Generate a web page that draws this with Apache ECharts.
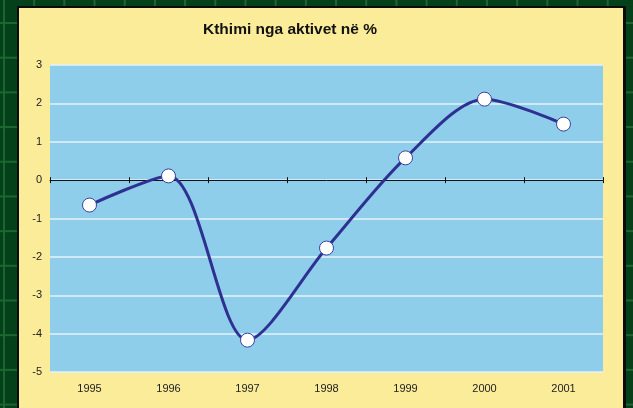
<!DOCTYPE html>
<html>
<head>
<meta charset="utf-8">
<script src="https://cdn.jsdelivr.net/npm/echarts@6/dist/echarts.min.js"></script>
<style>
  html, body { margin: 0; padding: 0; width: 633px; height: 408px; overflow: hidden; }
  body {
    background-color: #04401a;
    background-image:
      linear-gradient(to right, #1d6631 0, #1d6631 2px, transparent 2px),
      linear-gradient(to bottom, #1d6631 0, #1d6631 2px, transparent 2px);
    background-size: 30.2px 34.7px;
    background-position: 3px 22px;
  }
  #panel {
    position: absolute; left: 17px; top: 6px; width: 604px; height: 420px;
    background: #fbec9a; border: 2px solid #0b0b0b; border-right-width: 3px;
  }
  #chart { position: absolute; left: 0; top: 0; width: 633px; height: 408px; }
</style>
</head>
<body>
<div id="panel"></div>
<div id="chart"></div>
<script>
const titleText = 'Kthimi nga aktivet në %';
const years = ['1995', '1996', '1997', '1998', '1999', '2000', '2001'];
const values = [-0.65, 0.11, -4.17, -1.77, 0.58, 2.11, 1.46];
const yMin = -5, yMax = 3, yStep = 1;

const hiddenAxisParts = {
  axisLine: { show: false }, axisTick: { show: false },
  axisLabel: { show: false }, splitLine: { show: false }
};

const chart = echarts.init(document.getElementById('chart'), null, { renderer: 'canvas' });
chart.setOption({
  backgroundColor: 'transparent',
  animation: false,
  title: {
    text: titleText, left: 285, top: 17, textAlign: 'center',
    textStyle: { fontFamily: 'Liberation Sans, Arial, sans-serif', fontSize: 15.5, fontWeight: 'bold', color: '#111' }
  },
  grid: { left: 50, top: 65, width: 553, height: 307, show: true, backgroundColor: '#8fceea', borderWidth: 0 },
  xAxis: [
    {
      type: 'category', data: years, boundaryGap: true, position: 'bottom',
      axisLine: { show: false, onZero: false }, axisTick: { show: false },
      axisLabel: { margin: 11, color: '#222', fontSize: 11, fontFamily: 'Liberation Sans, Arial, sans-serif' }
    },
    {
      type: 'category', data: years, boundaryGap: true, position: 'bottom',
      axisLine: { show: true, onZero: true, onZeroAxisIndex: 0, lineStyle: { color: '#111', width: 1 } },
      axisTick: { show: true, length: 3, inside: false, lineStyle: { color: '#111' } },
      axisLabel: { show: false }
    },
    {
      type: 'category', data: years, boundaryGap: true, position: 'top',
      axisLine: { show: true, onZero: true, onZeroAxisIndex: 1, lineStyle: { color: 'rgba(0,0,0,0)', width: 1 } },
      axisTick: { show: true, length: 3, inside: false, lineStyle: { color: '#111' } },
      axisLabel: { show: false }
    }
  ],
  yAxis: [
    {
      type: 'value', min: yMin, max: yMax, interval: yStep,
      axisLine: { show: false }, axisTick: { show: false },
      axisLabel: { margin: 8, color: '#222', fontSize: 11, fontFamily: 'Liberation Sans, Arial, sans-serif' },
      splitLine: { show: true, lineStyle: { color: '#e4f3fa', width: 1.5 } }
    },
    Object.assign({ type: 'value', min: yMin, max: yMax, interval: yStep, position: 'right' }, hiddenAxisParts)
  ],
  series: [{
    type: 'line', data: values, xAxisIndex: 0, yAxisIndex: 0, smooth: 0.3,
    lineStyle: { color: '#2e3192', width: 3 },
    symbol: 'circle', symbolSize: 14,
    itemStyle: { color: '#ffffff', borderColor: '#3c3fa0', borderWidth: 1 },
    z: 5
  }]
});
</script>
</body>
</html>
